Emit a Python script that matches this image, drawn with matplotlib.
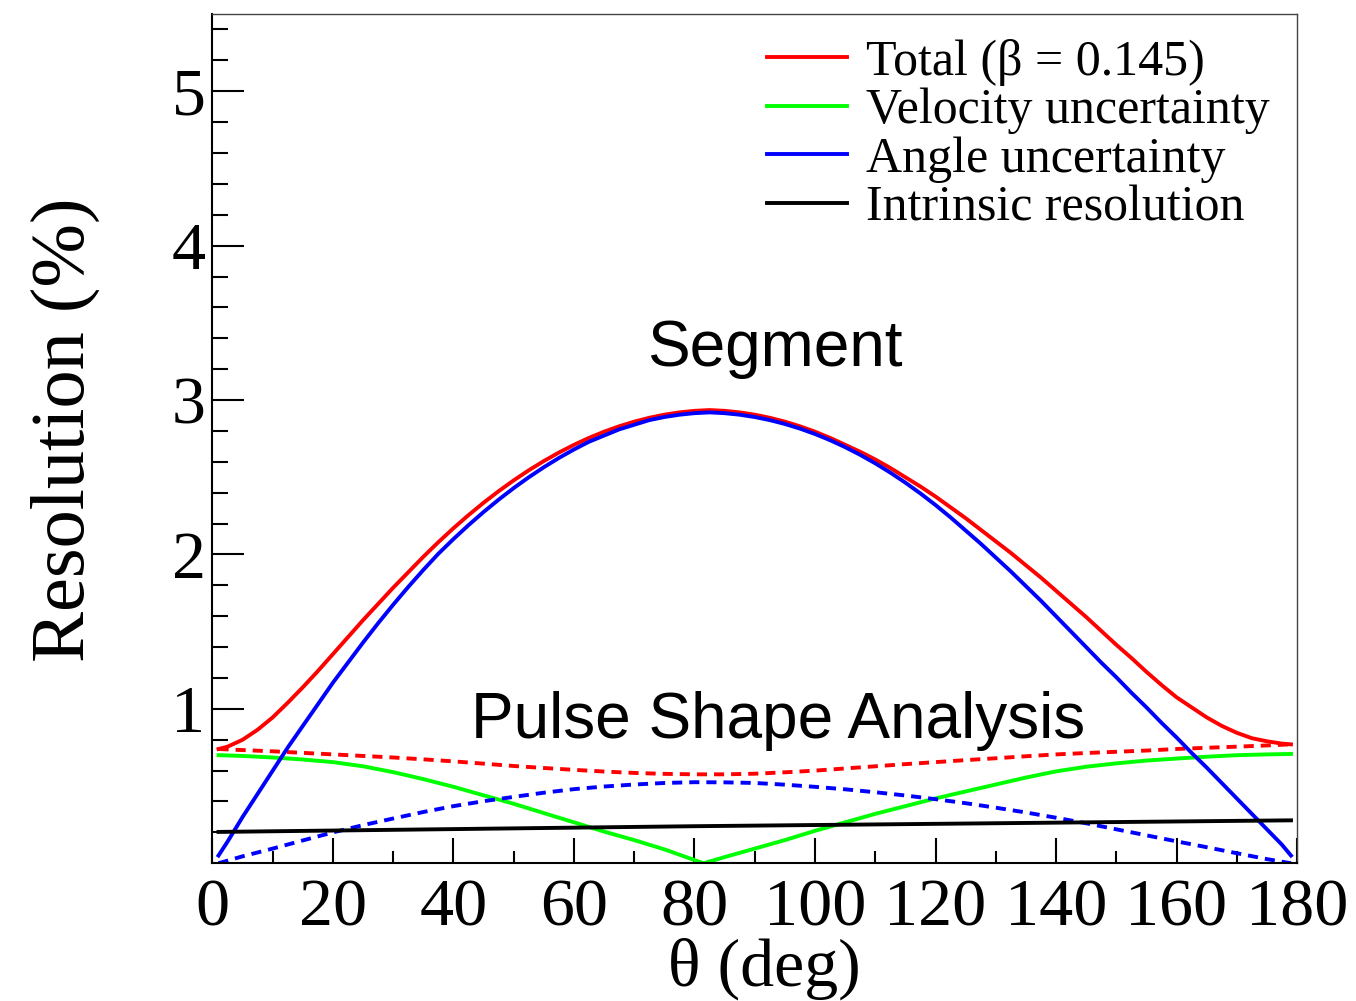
"""
Resolución vs theta: Segment (sólido) y Pulse Shape Analysis (discontinuo).
Output: out.png
"""
import matplotlib
matplotlib.use("Agg")
import matplotlib.pyplot as plt

# --- datos ---
THETA_SEG = [1, 2.5, 5, 7.5, 10, 12.5, 15, 17.5, 20, 22.5, 25, 27.5, 30, 32.5, 35,
             37.5, 40, 42.5, 45, 47.5, 50, 52.5, 55, 57.5, 60, 62.5, 65, 67.5, 70,
             72.5, 75, 77.5, 80, 82.5, 85, 87.5, 90, 92.5, 95, 97.5, 100, 102.5, 105,
             107.5, 110, 112.5, 115, 117.5, 120, 122.5, 125, 127.5, 130, 132.5, 135,
             137.5, 140, 142.5, 145, 147.5, 150, 152.5, 155, 157.5, 160, 162.5, 165,
             167.5, 170, 172.5, 175, 177.5, 179]
TOTAL_SEG = [0.74, 0.755, 0.80, 0.865, 0.945, 1.04, 1.14, 1.245, 1.355, 1.465, 1.575,
             1.68, 1.785, 1.885, 1.985, 2.08, 2.17, 2.255, 2.335, 2.41, 2.48, 2.545,
             2.605, 2.66, 2.71, 2.755, 2.795, 2.83, 2.86, 2.885, 2.905, 2.92, 2.93,
             2.935, 2.93, 2.92, 2.905, 2.885, 2.86, 2.83, 2.795, 2.755, 2.71, 2.665,
             2.615, 2.56, 2.50, 2.44, 2.375, 2.305, 2.235, 2.16, 2.085, 2.01, 1.93,
             1.85, 1.765, 1.68, 1.595, 1.505, 1.415, 1.33, 1.24, 1.155, 1.075, 1.01,
             0.945, 0.89, 0.845, 0.81, 0.79, 0.775, 0.77]
ANGLE_SEG = [0.05, 0.14, 0.30, 0.45, 0.60, 0.75, 0.89, 1.03, 1.17, 1.30, 1.43, 1.555,
             1.675, 1.79, 1.90, 2.005, 2.10, 2.19, 2.275, 2.355, 2.43, 2.50, 2.565,
             2.625, 2.68, 2.73, 2.77, 2.81, 2.84, 2.87, 2.89, 2.905, 2.915, 2.92,
             2.915, 2.905, 2.89, 2.87, 2.845, 2.815, 2.78, 2.74, 2.695, 2.645, 2.59,
             2.53, 2.465, 2.395, 2.32, 2.24, 2.155, 2.07, 1.98, 1.89, 1.795, 1.70,
             1.60, 1.50, 1.40, 1.30, 1.205, 1.105, 1.01, 0.91, 0.815, 0.715, 0.62,
             0.52, 0.42, 0.32, 0.22, 0.12, 0.05]

THETA_PSA = [1, 5, 10, 15, 20, 25, 30, 35, 40, 45, 50, 55, 60, 65, 70, 75, 80, 85,
             90, 95, 100, 105, 110, 115, 120, 125, 130, 135, 140, 145, 150, 155, 160,
             165, 170, 175, 179]
TOTAL_PSA = [0.74, 0.733, 0.725, 0.715, 0.705, 0.695, 0.685, 0.673, 0.66, 0.645,
             0.63, 0.617, 0.605, 0.594, 0.585, 0.579, 0.576, 0.576, 0.58, 0.589, 0.60,
             0.614, 0.628, 0.642, 0.655, 0.668, 0.68, 0.693, 0.705, 0.714, 0.722,
             0.73, 0.74, 0.748, 0.755, 0.763, 0.77]
ANGLE_PSA = [0.0, 0.045, 0.095, 0.148, 0.20, 0.247, 0.29, 0.332, 0.37, 0.402, 0.43,
             0.457, 0.48, 0.497, 0.51, 0.52, 0.525, 0.524, 0.52, 0.509, 0.495, 0.479,
             0.46, 0.439, 0.415, 0.389, 0.36, 0.329, 0.295, 0.259, 0.22, 0.181,
             0.142, 0.104, 0.065, 0.027, 0.0]

THETA_VEL = [1, 5, 10, 15, 20, 25, 30, 35, 40, 45, 50, 55, 60, 65, 70, 75, 81.5, 85,
             90, 95, 100, 105, 110, 115, 120, 125, 130, 135, 140, 145, 150, 155, 160,
             165, 170, 175, 179]
VELOCITY = [0.70, 0.695, 0.685, 0.672, 0.655, 0.628, 0.59, 0.545, 0.495, 0.44, 0.385,
            0.325, 0.265, 0.205, 0.15, 0.09, 0.0, 0.04, 0.095, 0.15, 0.21, 0.265,
            0.32, 0.37, 0.42, 0.465, 0.51, 0.555, 0.595, 0.625, 0.647, 0.665, 0.678,
            0.69, 0.70, 0.705, 0.708]

THETA_INT = [1, 80, 179]
INTRINSIC = [0.203, 0.24, 0.278]

LEGEND_LABELS = ["Total (β = 0.145)", "Velocity uncertainty",
                 "Angle uncertainty", "Intrinsic resolution"]

SERIF = "Liberation Serif"
SANS = "Liberation Sans"
LW = 2.8
DASH = (2.6, 1.8)


def main():
    fig = plt.figure(figsize=(13.56, 10.01), dpi=100)
    ax = fig.add_axes([0.1567, 0.1376, 0.7998, 0.8484])

    h_tot, = ax.plot(THETA_SEG, TOTAL_SEG, color="#ff0000", lw=LW)
    ax.plot(THETA_PSA, TOTAL_PSA, color="#ff0000", lw=LW, dashes=DASH)
    h_vel, = ax.plot(THETA_VEL, VELOCITY, color="#00ff00", lw=LW)
    h_ang, = ax.plot(THETA_SEG, ANGLE_SEG, color="#0000ff", lw=LW)
    ax.plot(THETA_PSA, ANGLE_PSA, color="#0000ff", lw=LW, dashes=DASH)
    h_int, = ax.plot(THETA_INT, INTRINSIC, color="black", lw=LW)

    ax.set_xlim(0, 180)
    ax.set_ylim(0, 5.5)
    ax.set_xticks(range(0, 181, 20))
    ax.set_xticks(range(0, 181, 10), minor=True)
    ax.set_yticks([1, 2, 3, 4, 5])
    ax.set_yticks([i / 5 for i in range(1, 28)], minor=True)

    ax.tick_params(which="both", direction="in", top=False, right=False,
                   width=1.5, color="black")
    ax.tick_params(axis="y", which="major", length=23, pad=5)
    ax.tick_params(axis="y", which="minor", length=11.5)
    ax.tick_params(axis="x", which="major", length=18, pad=11)
    ax.tick_params(axis="x", which="minor", length=9)
    for lab in ax.get_xticklabels() + ax.get_yticklabels():
        lab.set_fontfamily(SERIF)
        lab.set_fontsize(49)

    for side in ("left", "bottom"):
        ax.spines[side].set_linewidth(1.5)
    for side in ("top", "right"):
        ax.spines[side].set_linewidth(1.0)
        ax.spines[side].set_color("#444444")

    ax.set_xlabel("θ (deg)", fontfamily=SERIF, fontsize=49)
    ax.xaxis.set_label_coords(0.509, -0.087)
    ax.set_ylabel("Resolution (%)", fontfamily=SERIF, fontsize=55)
    ax.yaxis.set_label_coords(-0.104, 0.51)

    ax.text(93.4, 3.33, "Segment", family=SANS, fontsize=46,
            ha="center", va="center")
    ax.text(93.8, 0.92, "Pulse Shape Analysis", family=SANS, fontsize=46,
            ha="center", va="center")

    ax.legend([h_tot, h_vel, h_ang, h_int], LEGEND_LABELS,
              loc="upper left", bbox_to_anchor=(0.511, 0.971),
              frameon=False, prop={"family": SERIF, "size": 36},
              handlelength=1.6, handletextpad=0.38, labelspacing=0.04,
              borderpad=0, borderaxespad=0)

    fig.savefig("out.png", dpi=100)


if __name__ == "__main__":
    main()
